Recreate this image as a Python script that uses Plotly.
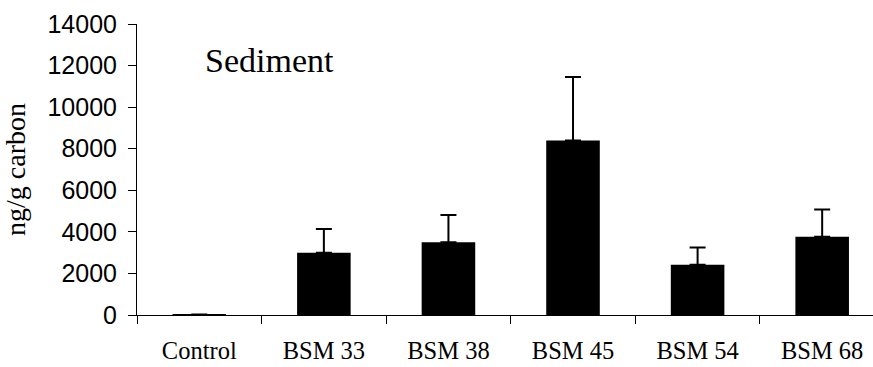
import plotly.graph_objects as go

# Sediment concentrations per site (ng/g carbon) with standard errors
sites = ["Control", "BSM 33", "BSM 38", "BSM 45", "BSM 54", "BSM 68"]
conc = [10, 3000, 3500, 8400, 2420, 3770]
conc_err = [15, 1140, 1310, 3050, 830, 1310]
y_ticks = [0, 2000, 4000, 6000, 8000, 10000, 12000, 14000]

fig = go.Figure()
fig.add_trace(go.Bar(
    x=sites, y=conc, width=0.43,
    marker=dict(color="black", line=dict(color="black", width=0)),
    error_y=dict(type="data", array=conc_err, symmetric=False,
                 arrayminus=[0] * len(conc_err),
                 color="black", thickness=2, width=8),
))

fig.update_layout(
    width=873, height=367,
    margin=dict(l=137, r=0, t=24, b=52),
    plot_bgcolor="white", paper_bgcolor="white",
    showlegend=False,
    bargap=0.57,
    xaxis=dict(
        type="category", range=[-0.5, 5.408],
        showline=True, linecolor="black", linewidth=1,
        ticks="outside", ticklen=8, tickcolor="black", tickwidth=1,
        tickson="boundaries", showgrid=False,
        ticklabelstandoff=14,
        tickfont=dict(family="Liberation Serif", size=24.5, color="black"),
    ),
    yaxis=dict(
        range=[0, 14000], tickvals=y_ticks,
        ticktext=[str(v) for v in y_ticks],
        showline=True, linecolor="black", linewidth=1,
        ticks="outside", ticklen=8, tickcolor="black", tickwidth=1,
        showgrid=False, zeroline=False,
        ticklabelstandoff=6,
        tickfont=dict(family="Liberation Sans", size=25, color="black"),
        title=dict(text="ng/g carbon", standoff=16,
                   font=dict(family="Liberation Serif", size=28, color="black")),
    ),
    annotations=[dict(
        text="Sediment", xref="paper", yref="paper",
        x=0.0897, y=0.876, xanchor="left", yanchor="middle",
        showarrow=False,
        font=dict(family="Liberation Serif", size=34, color="black"),
    )],
)

fig.write_html("out.html")
